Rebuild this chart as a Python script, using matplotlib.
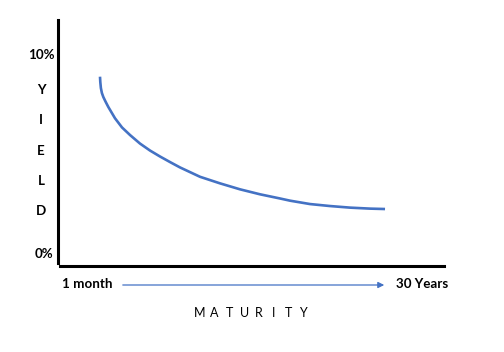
import matplotlib
matplotlib.use("Agg")
import matplotlib.pyplot as plt
from matplotlib.lines import Line2D
from matplotlib.patches import FancyArrowPatch

# Data: maturity (arbitrary 0-100 scale) and yield (%)
maturity = [10.88, 10.96, 11.11, 11.37, 11.74, 12.31, 13.03, 14.77, 16.58, 18.65, 21.24,
            23.83, 26.42, 29.02, 31.61, 36.79, 41.97, 47.15, 52.33, 57.51, 60.10,
            65.28, 70.47, 75.65, 80.83, 84.72]
yield_pct = [8.91, 8.64, 8.34, 8.09, 7.89, 7.66, 7.39, 6.82, 6.36, 5.98, 5.55,
             5.20, 4.90, 4.62, 4.35, 3.88, 3.55, 3.25, 3.00, 2.79, 2.68,
             2.51, 2.41, 2.33, 2.28, 2.26]
y_letters = ["Y", "I", "E", "L", "D"]
y_top_label = "10%"
y_bottom_label = "0%"
x_left_label = "1 month"
x_right_label = "30 Years"
x_title = "MATURITY"

W, H = 504, 352
fig = plt.figure(figsize=(W / 100, H / 100), dpi=100)

def fx(px):
    return px / W

def fy(py):
    return 1 - py / H

# axes region: x 58..444 px, y 20..266 px
ax = fig.add_axes([fx(58), fy(266), fx(444) - fx(58), fy(20) - fy(266)])
ax.set_xlim(0, 100)
ax.set_ylim((254 - 266) / 19.9, (254 - 20) / 19.9)
ax.axis("off")

ax.plot(maturity, yield_pct, color="#4472C4", lw=1.9,
        solid_capstyle="butt", solid_joinstyle="round")

# axis lines
fig.add_artist(Line2D([fx(58), fx(58)], [fy(20), fy(263)], color="black", lw=2.2))
fig.add_artist(Line2D([fx(60), fx(444)], [fy(265.5), fy(265.5)], color="black", lw=2.2))

font = "Lato"
fs = 9.6
# y labels
fig.text(fx(55), fy(55), y_top_label, ha="right", va="center", fontsize=fs,
         fontweight="bold", family=font)
fig.text(fx(53), fy(254), y_bottom_label, ha="right", va="center", fontsize=fs,
         fontweight="bold", family=font)
for letter, py in zip(y_letters, [90, 120, 151, 181, 211]):
    fig.text(fx(41), fy(py), letter, ha="center", va="center", fontsize=fs,
             fontweight="bold", family=font)

# x labels
fig.text(fx(62), fy(284.5), x_left_label, ha="left", va="center", fontsize=fs,
         fontweight="bold", family=font)
fig.text(fx(396), fy(284.5), x_right_label, ha="left", va="center", fontsize=fs,
         fontweight="bold", family=font)
for i, ch in enumerate(x_title):
    fig.text(fx(200 + i * 14.7), fy(313), ch, ha="center", va="center",
             fontsize=9, family=font)

# arrow
fig.add_artist(FancyArrowPatch(
    (fx(120), fy(285)), (fx(387), fy(285)), transform=fig.transFigure,
    arrowstyle="-|>", mutation_scale=9, color="#4472C4", lw=0.9))

fig.savefig("out.png", dpi=100)
